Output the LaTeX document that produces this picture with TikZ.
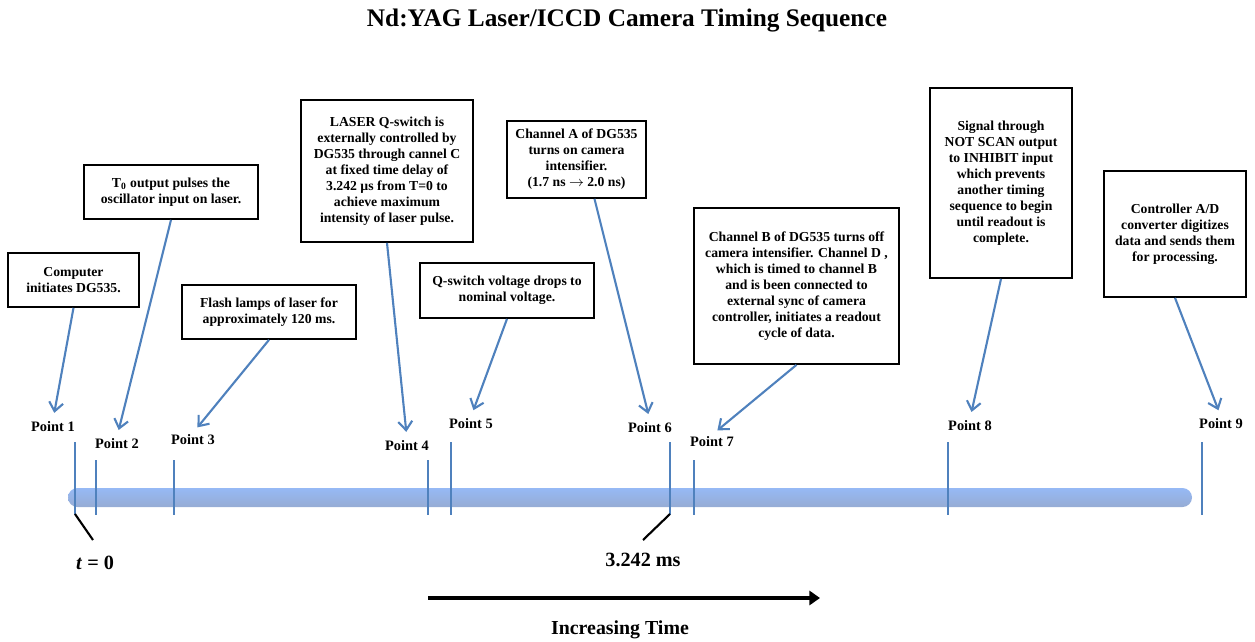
\documentclass[tikz,border=0pt]{standalone}
\usepackage{fontspec}
\setmainfont{Liberation Serif}
\usetikzlibrary{arrows.meta}

\definecolor{pointblue}{RGB}{79,129,189}
\definecolor{barhi}{RGB}{150,185,245}
\definecolor{barmid}{RGB}{85,138,236}
\definecolor{barlo}{RGB}{150,172,212}

\tikzset{
  evbox/.style={draw, line width=1pt, align=center, inner sep=3pt,
    font=\fontsize{7.8}{9.1}\selectfont\bfseries},
  ptlabel/.style={font=\fontsize{8.2}{10}\selectfont\bfseries, inner sep=1pt},
  cue/.style={draw=pointblue, line width=1.2pt, shorten >=4pt,
    -{Straight Barb[length=5pt,width=8pt,line width=1.2pt]}},
  tickline/.style={pointblue, line width=0.7pt},
  slash/.style={black, line width=1.2pt},
  bigtext/.style={font=\fontsize{11.5}{13}\selectfont\bfseries},
}

\begin{document}
\begin{tikzpicture}[x=0.02cm,y=-0.02cm]
  \useasboundingbox (0,0) rectangle (1255,642);

  \node[font=\fontsize{14.4}{16}\selectfont\bfseries] (title) at (627,21)
    {Nd:YAG Laser/ICCD Camera Timing Sequence};

  % event boxes
  \node[evbox, minimum width=2.62cm, minimum height=1.08cm] (comp) at (73.5,280)
    {Computer\\initiates DG535.};
  \node[evbox, minimum width=3.48cm, minimum height=1.08cm] (tzero) at (171,192)
    {T\textsubscript{0} output pulses the\\oscillator input on laser.};
  \node[evbox, minimum width=3.48cm, minimum height=1.08cm] (flash) at (269,312)
    {Flash lamps of laser for\\approximately 120 ms.};
  \node[evbox, minimum width=3.44cm, minimum height=2.84cm] (qctrl) at (387,171)
    {LASER Q-switch is\\externally controlled by\\DG535 through cannel C\\at fixed time delay of\\3.242 µs from T=0 to\\achieve maximum\\intensity of laser pulse.};
  \node[evbox, minimum width=3.48cm, minimum height=1.10cm] (qdrop) at (507,290.5)
    {Q-switch voltage drops to\\nominal voltage.};
  \node[evbox, minimum width=2.78cm, minimum height=1.54cm] (chA) at (576.5,159.5)
    {Channel A of DG535\\turns on camera\\intensifier.\\(1.7 ns $\rightarrow$ 2.0 ns)};
  \node[evbox, minimum width=4.1cm, minimum height=3.12cm] (chB) at (796.5,286)
    {Channel B of DG535 turns off\\camera intensifier. Channel D ,\\which is timed to channel B\\and is been connected to\\external sync of camera\\controller, initiates a readout\\cycle of data.};
  \node[evbox, minimum width=2.84cm, minimum height=3.8cm] (inhibit) at (1001,183)
    {Signal through\\NOT SCAN output\\to INHIBIT input\\which prevents\\another timing\\sequence to begin\\until readout is\\complete.};
  \node[evbox, minimum width=2.84cm, minimum height=2.52cm] (adc) at (1175,234)
    {Controller A/D\\converter digitizes\\data and sends them\\for processing.};

  % time bar
  \shade[rounded corners=0.19cm, top color=barhi, middle color=barmid, bottom color=barlo]
    (68,488) rectangle (1192,507);

  \foreach \x/\y in {75/442, 96/460, 174/460, 428/460, 451/442, 670/442, 694/460, 948/442, 1202/442}
    \draw[tickline] (\x,\y) -- (\x,515);

  \foreach \n/\x/\y in {1/53/427, 2/117/444, 3/193/440, 4/407/446, 5/471/424,
                        6/650/428, 7/712/442, 8/970/426, 9/1221/424}
    \node[ptlabel] (p\n) at (\x,\y) {Point \n};

  % pointers
  \draw[cue] (comp.south) -- (p1.north);
  \draw[cue] (tzero.south) -- (p2.north);
  \draw[cue] (flash.south) -- (p3.north);
  \draw[cue] (qctrl.south) -- (p4.north);
  \draw[cue] (qdrop.south) -- (p5.north);
  \draw[cue] ([xshift=0.36cm]chA.south) -- (p6.north);
  \draw[cue] (chB.south) -- (p7.north);
  \draw[cue] (inhibit.south) -- (p8.north);
  \draw[cue] (adc.south) -- (p9.north);

  % start and delay marks
  \coordinate (t0top) at (75,514);
  \coordinate (t0end) at (93,540);
  \node[bigtext] (t0lbl) at (95,563) {\textit{t} = 0};
  \draw[slash] (t0top) -- (t0end);

  \coordinate (dtop) at (670,514);
  \coordinate (dend) at (643,540);
  \node[bigtext] (dlbl) at (643,560) {3.242 ms};
  \draw[slash] (dtop) -- (dend);

  % direction of time
  \coordinate (tstart) at (428,598);
  \coordinate (tend) at (820,598);
  \draw[line width=2.2pt, -{Triangle[length=6pt,width=8pt]}] (tstart) -- (tend);
  \node[bigtext, font=\fontsize{11.3}{13}\selectfont\bfseries] (inc) at (620,630) {Increasing Time};
\end{tikzpicture}
\end{document}
